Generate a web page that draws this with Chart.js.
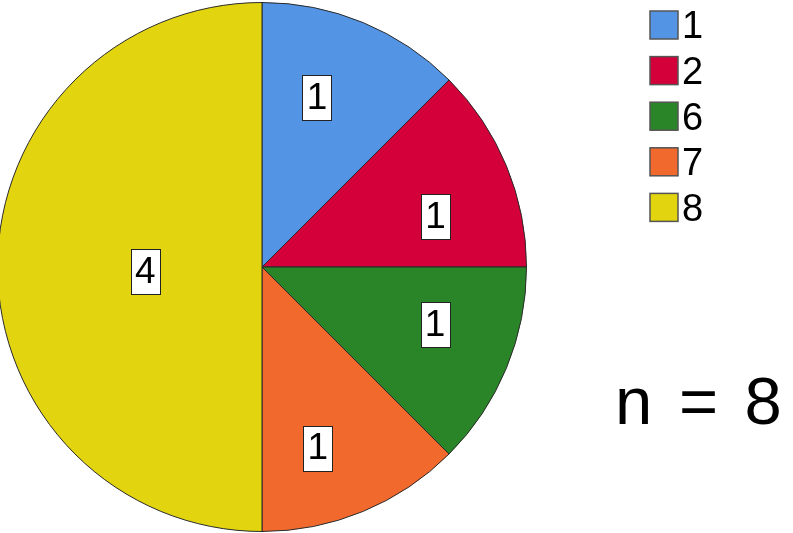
<!DOCTYPE html>
<html><head><meta charset="utf-8">
<script src="https://cdn.jsdelivr.net/npm/chart.js@4/dist/chart.umd.min.js"></script>
<style>
html,body{margin:0;padding:0;background:#fff;overflow:hidden;width:793px;height:533px;}
#wrap{position:absolute;left:-18px;top:-13px;width:830px;height:560px;}
</style></head><body>
<div id="wrap"><canvas id="c" width="830" height="560"></canvas></div>
<script>
const categories = ['1','2','6','7','8'];
const counts = [1,1,1,1,4];
const colors = ['#5494E4','#D4003A','#2A8529','#F2692D','#E2D50F'];
const totalLabel = 'n = 8';

const OX = 18, OY = 13; // canvas offset relative to page
// label placement styling (fraction along slice angle, fraction of radius)
const labelAngleT = [0.40, 0.64, 0.41, 0.62, 0.487];
const labelRadiusT = [0.672, 0.683, 0.69, 0.717, 0.442];

const overlay = {
  id:'overlay',
  afterDatasetsDraw(chart){
    const ctx = chart.ctx;
    const meta = chart.getDatasetMeta(0);
    ctx.save();
    ctx.font = '37px "Liberation Sans", Arial, sans-serif';
    ctx.textAlign = 'center';
    ctx.textBaseline = 'middle';
    meta.data.forEach((arc,i)=>{
      const p = arc.getProps(['x','y','startAngle','endAngle','outerRadius'],true);
      const a = p.startAngle + (p.endAngle-p.startAngle)*labelAngleT[i];
      const x = p.x + Math.cos(a)*p.outerRadius*labelRadiusT[i];
      const y = p.y + Math.sin(a)*p.outerRadius*labelRadiusT[i];
      const txt = String(chart.data.datasets[0].data[i]);
      const w = 29, h = 45;
      ctx.fillStyle = '#fff';
      ctx.fillRect(Math.round(x-w/2)+0.5, Math.round(y-h/2)+0.5, w, h);
      ctx.strokeStyle = '#222';
      ctx.lineWidth = 1;
      ctx.strokeRect(Math.round(x-w/2)+0.5, Math.round(y-h/2)+0.5, w, h);
      ctx.fillStyle = '#000';
      ctx.fillText(txt, x, y+1);
    });
    // legend
    ctx.textAlign = 'left';
    ctx.font = '38px "Liberation Sans", Arial, sans-serif';
    chart.data.labels.forEach((lab,i)=>{
      const bx = 650 + OX, by = 11 + i*45.6 + OY;
      ctx.fillStyle = chart.data.datasets[0].backgroundColor[i];
      ctx.fillRect(bx, by, 28, 28);
      ctx.strokeStyle = '#555';
      ctx.lineWidth = 1.5;
      ctx.strokeRect(bx, by, 28, 28);
      ctx.fillStyle = '#000';
      ctx.fillText(lab, 682 + OX, by + 17);
    });
    // n = 8
    ctx.font = '67px "Liberation Sans", Arial, sans-serif';
    ctx.textBaseline = 'alphabetic';
    ctx.letterSpacing = '4px';
    ctx.fillText(totalLabel, 615 + OX, 424 + OY);
    ctx.restore();
  }
};

new Chart(document.getElementById('c'), {
  type:'pie',
  data:{
    labels: categories,
    datasets:[{data: counts, backgroundColor: colors, borderColor:'#2a2a2a', borderWidth:1}]
  },
  options:{
    responsive:false,
    animation:false,
    layout:{padding:{left:15, top:15, bottom:15, right:285}},
    plugins:{legend:{display:false}, tooltip:{enabled:false}}
  },
  plugins:[overlay]
});
</script>
</body></html>
